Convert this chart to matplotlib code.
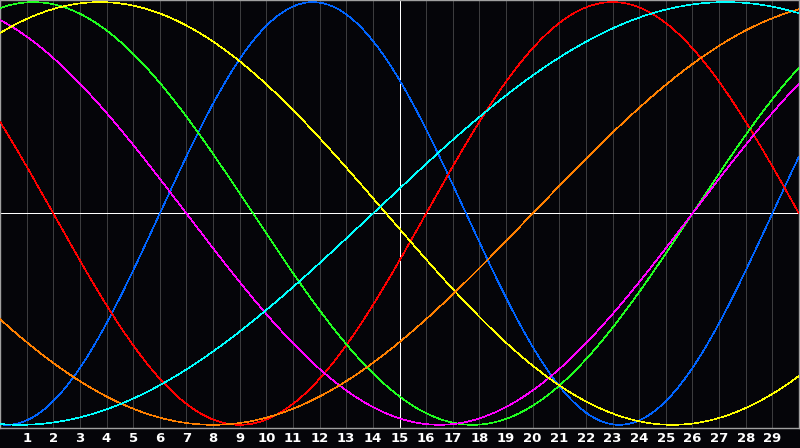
import numpy as np
import matplotlib
matplotlib.use('Agg')
import matplotlib.pyplot as plt

# biorhythm cycles: period in days, and the day where each curve crosses
# the centre line going up
periods = [23, 28, 33, 38, 43, 48, 53]
rise_day = [6.0, 16.0, 26.0, 26.0, -7.0, 20.0, 14.0]
colors = ['#0064ff', '#ff0000', '#20ff20', '#ff00ff', '#ffff00', '#ff8000', '#00ffff']

day_labels = [str(d) for d in range(1, 30)]
n_days = 30

bg = '#050509'

fig = plt.figure(figsize=(8, 4.48), dpi=100, facecolor=bg)
ax = fig.add_axes([0, 20 / 448, 799 / 800, 428 / 448])
ax.set_facecolor(bg)

days = np.linspace(0, n_days, 1201)

# grid and centre lines
for d in range(1, n_days):
    ax.axvline(d, color='#3c3c3e', lw=0.5, antialiased=False, zorder=1)
ax.axvline(n_days / 2, color='white', lw=0.5, antialiased=False, zorder=2)
ax.axhline(0, color='white', lw=0.5, antialiased=False, zorder=2)

for p, r, c in zip(periods, rise_day, colors):
    vals = np.sin(2 * np.pi * (days - r) / p)
    ax.plot(days, vals, color=c, lw=0.45, antialiased=False, zorder=3)

ax.set_xlim(0, n_days)
ax.set_ylim(-1.015, 1.01)

ax.set_xticks(range(1, n_days))
ax.set_xticklabels(day_labels, color='white', fontweight='bold',
                   fontsize=9.5, family='DejaVu Sans')
ax.tick_params(axis='x', length=0, pad=3)
ax.set_yticks([])

for s in ax.spines.values():
    s.set_color('#a0a0a0')
    s.set_linewidth(1.0)

fig.savefig('out.png', dpi=100, facecolor=bg)
